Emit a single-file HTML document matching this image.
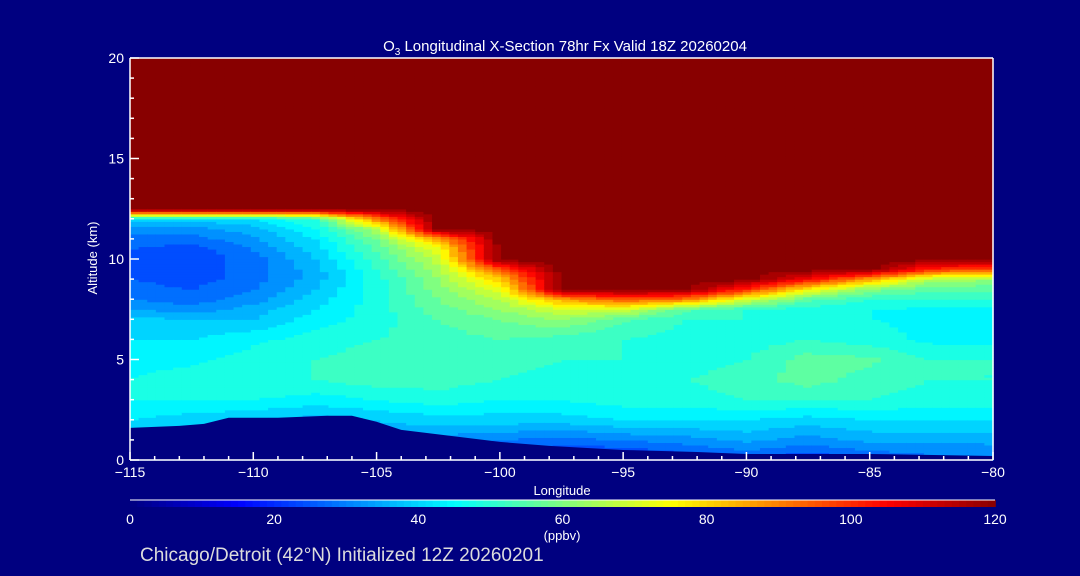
<!DOCTYPE html>
<html><head><meta charset="utf-8"><style>
html,body{margin:0;padding:0;background:#000080;}
svg{display:block;font-family:"Liberation Sans",sans-serif;}
text{fill:#fff;}
</style></head><body>
<svg id="chart" width="1080" height="576" viewBox="0 0 1080 576">
<rect x="0" y="0" width="1080" height="576" fill="#000080"/>
<g id="heat"></g>
<polygon id="terrain" fill="#000080"/>
<g id="axes"></g>
<text x="565" y="51" font-size="15" text-anchor="middle">O<tspan font-size="10" dy="4">3</tspan><tspan dy="-4"> Longitudinal X-Section 78hr  Fx Valid 18Z 20260204</tspan></text>
<text x="562" y="495" font-size="13" text-anchor="middle">Longitude</text>
<text x="97" y="258" font-size="13" text-anchor="middle" transform="rotate(-90 97 258)">Altitude (km)</text>
<g id="cbar"></g>
<text x="562" y="540" font-size="13" text-anchor="middle">(ppbv)</text>
<text x="140" y="561" font-size="19" style="fill:#dcdcdc">Chicago/Detroit (42°N) Initialized 12Z 20260201</text>
</svg>
<script>
const lons=[-115,-112.5,-110,-107.5,-105,-102.5,-100,-97.5,-95,-92.5,-90,-87.5,-85,-82.5,-80];
const alts=[0,1,2,3,4,5,6,7,7.5,8,8.5,9,9.5,10,10.5,11,11.5,12,12.5,13,14,15,16,17,18,19,20];
const T=120;
const ozone=[
[30,30,30,30,30,28,25,20,18,22,25,22,25,28,30],
[35,35,35,35,35,32,30,28,30,32,35,32,35,35,35],
[42,40,38,36,38,40,40,40,42,42,42,40,42,42,42],
[46,46,46,44,46,48,46,46,48,48,50,50,50,48,48],
[46,48,50,50,52,52,50,48,50,50,52,56,52,50,50],
[45,45,48,50,52,52,52,50,50,48,50,56,55,50,50],
[42,42,45,48,50,52,54,52,50,48,48,50,48,45,45],
[40,38,38,44,48,54,58,62,55,50,50,48,46,45,45],
[34,32,36,42,48,56,62,70,70,55,50,48,46,45,45],
[30,28,32,40,48,58,66,85,95,90,70,55,50,50,50],
[28,26,30,38,48,60,72,T,T,T,100,75,60,55,55],
[26,24,28,36,48,62,80,T,T,T,T,105,85,65,62],
[25,23,28,36,50,64,95,T,T,T,T,T,T,100,95],
[25,23,28,38,52,68,T,T,T,T,T,T,T,T,T],
[26,24,30,40,55,72,T,T,T,T,T,T,T,T,T],
[28,28,33,42,58,85,T,T,T,T,T,T,T,T,T],
[32,32,36,46,65,T,T,T,T,T,T,T,T,T,T],
[40,40,42,50,90,T,T,T,T,T,T,T,T,T,T],
[T,T,T,T,T,T,T,T,T,T,T,T,T,T,T],
[T,T,T,T,T,T,T,T,T,T,T,T,T,T,T],
[T,T,T,T,T,T,T,T,T,T,T,T,T,T,T],
[T,T,T,T,T,T,T,T,T,T,T,T,T,T,T],
[T,T,T,T,T,T,T,T,T,T,T,T,T,T,T],
[T,T,T,T,T,T,T,T,T,T,T,T,T,T,T],
[T,T,T,T,T,T,T,T,T,T,T,T,T,T,T],
[T,T,T,T,T,T,T,T,T,T,T,T,T,T,T],
[T,T,T,T,T,T,T,T,T,T,T,T,T,T,T]];
const terrainLon=[-115,-113,-112,-111,-109,-107,-106,-105,-104,-102,-100,-98,-95,-92,-90,-85,-80];
const terrainAlt=[1.6,1.7,1.8,2.1,2.1,2.2,2.2,1.9,1.5,1.2,0.9,0.7,0.5,0.4,0.3,0.3,0.2];
const xTicks=[-115,-110,-105,-100,-95,-90,-85,-80];
const xTickLabels=["\u2212115","\u2212110","\u2212105","\u2212100","\u221295","\u221290","\u221285","\u221280"];
const yTicks=[0,5,10,15,20];
const cbTicks=[0,20,40,60,80,100,120];

const X0=130,X1=993,Y0=460,Y1=58;
const xs=l=>X0+(l+115)/35*(X1-X0);
const ys=a=>Y0-a/20*(Y0-Y1);
const NS="http://www.w3.org/2000/svg";
function jet(v){
  const t=Math.max(0,Math.min(1,v/120));
  const s=[[0,0,0,128],[0.125,0,0,255],[0.375,0,255,255],[0.625,255,255,0],[0.875,255,0,0],[1,136,0,0]];
  for(let i=1;i<s.length;i++){if(t<=s[i][0]){const a=s[i-1],b=s[i],f=(t-a[0])/(b[0]-a[0]);
    return `rgb(${Math.round(a[1]+f*(b[1]-a[1]))},${Math.round(a[2]+f*(b[2]-a[2]))},${Math.round(a[3]+f*(b[3]-a[3]))})`;}}
  return "rgb(136,0,0)";
}
function sample(lon,alt){
  let i=0;while(i<lons.length-2&&lon>lons[i+1])i++;
  let j=0;while(j<alts.length-2&&alt>alts[j+1])j++;
  const fx=(lon-lons[i])/(lons[i+1]-lons[i]),fy=(alt-alts[j])/(alts[j+1]-alts[j]);
  const v00=ozone[j][i],v10=ozone[j][i+1],v01=ozone[j+1][i],v11=ozone[j+1][i+1];
  return v00*(1-fx)*(1-fy)+v10*fx*(1-fy)+v01*(1-fx)*fy+v11*fx*fy;
}
const heat=document.getElementById('heat');
const dl=0.35,da=0.125;
for(let lon=-115;lon<-80-1e-6;lon+=dl){
  for(let alt=0;alt<20-1e-6;alt+=da){
    const v=sample(Math.min(lon+dl/2,-80),alt+da/2);
    const r=document.createElementNS(NS,'rect');
    
    
    const x=xs(lon),x2=xs(Math.min(lon+dl,-80)),y=ys(alt+da),y2=ys(alt);
    r.setAttribute('x',x.toFixed(2));r.setAttribute('y',y.toFixed(2));
    r.setAttribute('width',(x2-x+0.6).toFixed(2));r.setAttribute('height',(y2-y+0.6).toFixed(2));
    r.setAttribute('fill',jet(Math.round(v/4)*4));
    heat.appendChild(r);
  }
}
let pts=[];
terrainLon.forEach((l,k)=>pts.push(xs(l)+','+ys(terrainAlt[k])));
pts.push(xs(-80)+','+Y0,xs(-115)+','+Y0);
document.getElementById('terrain').setAttribute('points',pts.join(' '));

const ax=document.getElementById('axes');
function line(x1,y1,x2,y2,name){const e=document.createElementNS(NS,'line');
  e.setAttribute('x1',x1);e.setAttribute('y1',y1);e.setAttribute('x2',x2);e.setAttribute('y2',y2);
  e.setAttribute('stroke','#fff');e.setAttribute('stroke-width','1.5');
  
  
  ax.appendChild(e);return e;}
function txt(x,y,s,anchor,size,name,parent){const e=document.createElementNS(NS,'text');
  e.setAttribute('x',x);e.setAttribute('y',y);e.setAttribute('text-anchor',anchor);e.setAttribute('font-size',size);
  e.textContent=s;
  
  
  (parent||ax).appendChild(e);}
line(X0,Y0,X1,Y0,'x-axis-line');line(X0,Y1,X1,Y1,'x-axis-top-line');
line(X0,Y0,X0,Y1,'y-axis-line');line(X1,Y0,X1,Y1,'y-axis-right-line');
for(let l=-115;l<=-80;l++){const maj=(l%5===0);line(xs(l),Y0,xs(l),Y0-(maj?8:4),'x-tick');}
xTicks.forEach((l,k)=>txt(xs(l),Y0+17,xTickLabels[k],'middle',14,'x-tick-label'));
for(let a=0;a<=20;a++){const maj=(a%5===0);line(X0,ys(a),X0+(maj?9:4),ys(a),'y-tick');}
yTicks.forEach(a=>txt(X0-6,ys(a)+5,String(a),'end',14,'y-tick-label'));

const cb=document.getElementById('cbar');
const C0=130,C1=995;
for(let v=0;v<120;v+=1){const r=document.createElementNS(NS,'rect');
  
  
  const x=C0+v/120*(C1-C0);r.setAttribute('x',x);r.setAttribute('y',500);
  r.setAttribute('width',(C1-C0)/120+0.8);r.setAttribute('height',7);r.setAttribute('fill',jet(v+0.5));cb.appendChild(r);}
const cl=document.createElementNS(NS,'line');
cl.setAttribute('x1',C0);cl.setAttribute('x2',C1);cl.setAttribute('y1',500);cl.setAttribute('y2',500);cl.setAttribute('stroke','#fff');


cb.appendChild(cl);
cbTicks.forEach(v=>txt(C0+v/120*(C1-C0),524,String(v),'middle',14,'colorbar-label',cb));
</script>
</body></html>
